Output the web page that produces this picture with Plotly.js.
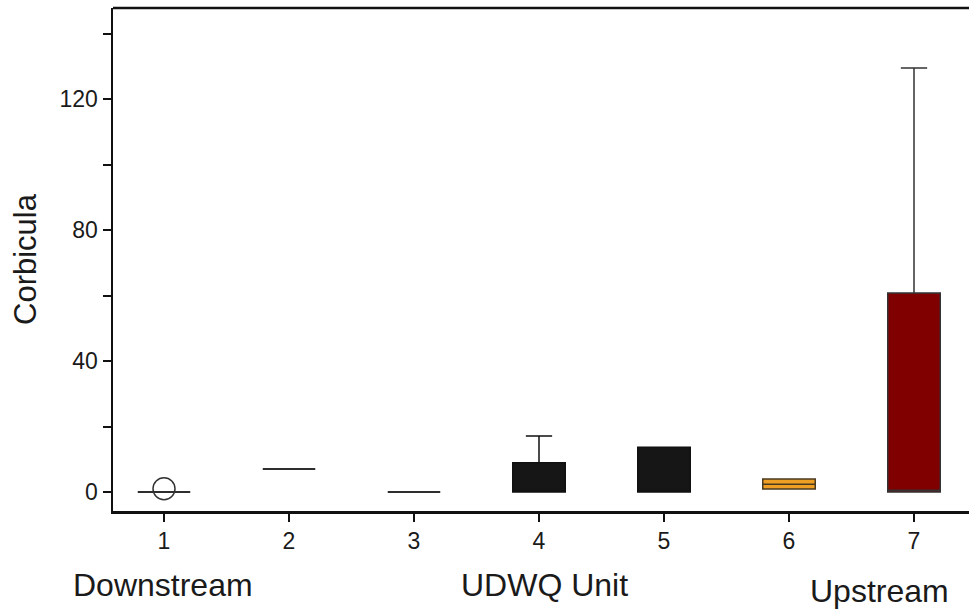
<!DOCTYPE html>
<html>
<head>
<meta charset="utf-8">
<script src="https://cdn.plot.ly/plotly-3.0.1.min.js"></script>
<style>html,body{margin:0;padding:0;background:#fff;overflow:hidden}</style>
</head>
<body>
<div id="chart" style="width:969px;height:610px"></div>
<script>
// Data
var units      = [1, 2, 3, 4, 5, 6, 7];
var q1Vals     = [0, 7.0, 0, 0, 0, 0.9, 0];
var medianVals = [0, 7.0, 0, 0, 0, 2.4, 0.5];
var q3Vals     = [0, 7.0, 0, 8.9, 13.7, 4.0, 60.8];
var lowerVals  = [0, 7.0, 0, 0, 0, 0.9, 0];
var upperVals  = [0, 7.0, 0, 17.1, 13.7, 4.0, 129.5];
var outlierX   = [1];
var outlierY   = [1];
var yTickVals  = [0, 20, 40, 60, 80, 100, 120, 140];
var yTickText  = ['0', '', '40', '', '80', '', '120', ''];
var regionLabels = ['Downstream', 'UDWQ Unit', 'Upstream'];

// Styles
var fills = ['rgba(0,0,0,0)', 'rgba(0,0,0,0)', 'rgba(0,0,0,0)', '#161616', '#161616', '#EE9E22', '#800000'];
var lines = ['#2e2e2e', '#2e2e2e', '#2e2e2e', '#111111', '#111111', '#4a3a20', '#333333'];
var lineW = [2, 2, 2, 1.5, 1.5, 1.5, 1.5];

var traces = units.map(function (u, i) {
  return {
    type: 'box',
    x: [u],
    q1: [q1Vals[i]],
    median: [medianVals[i]],
    q3: [q3Vals[i]],
    lowerfence: [lowerVals[i]],
    upperfence: [upperVals[i]],
    width: 0.42,
    whiskerwidth: 0.5,
    fillcolor: fills[i],
    line: {color: lines[i], width: lineW[i]},
    showlegend: false,
    hoverinfo: 'skip'
  };
});
traces.push({
  type: 'scatter', mode: 'markers',
  x: outlierX, y: outlierY,
  marker: {symbol: 'circle-open', size: 22, color: '#333333', line: {width: 1.5, color: '#333333'}},
  showlegend: false, hoverinfo: 'skip'
});

var fontFam = 'Liberation Sans, Arial, sans-serif';
var layout = {
  width: 969, height: 610,
  margin: {l: 113, r: 0, t: 8, b: 99},
  paper_bgcolor: '#ffffff', plot_bgcolor: '#ffffff',
  font: {family: fontFam, color: '#1a1a1a'},
  xaxis: {
    range: [0.592, 7.44],
    tickvals: units,
    ticktext: units.map(String),
    ticks: 'outside', ticklen: 8, tickwidth: 2, tickcolor: '#111',
    showline: true, linewidth: 2.5, linecolor: '#111', mirror: false,
    showgrid: false, zeroline: false,
    tickfont: {size: 23, family: fontFam, color: '#1a1a1a'}
  },
  yaxis: {
    range: [-5.8, 147.8],
    tickvals: yTickVals,
    ticktext: yTickText,
    ticks: 'outside', ticklen: 8, tickwidth: 2, tickcolor: '#111',
    showline: true, linewidth: 2.5, linecolor: '#111',
    showgrid: false, zeroline: false,
    tickfont: {size: 23, family: fontFam, color: '#1a1a1a'},
    title: {text: 'Corbicula', font: {size: 31, family: fontFam, color: '#1a1a1a'}, standoff: 14}
  },
  shapes: [{
    type: 'line', xref: 'paper', yref: 'paper', x0: 0, x1: 1, y0: 1, y1: 1,
    line: {color: '#111', width: 2.5}
  }],
  annotations: [
    {text: regionLabels[0], xref: 'x', yref: 'paper', x: 0.99, y: -0.147, xanchor: 'center', yanchor: 'middle', showarrow: false, font: {size: 32, family: fontFam, color: '#1a1a1a'}},
    {text: regionLabels[1], xref: 'x', yref: 'paper', x: 4.04, y: -0.147, xanchor: 'center', yanchor: 'middle', showarrow: false, font: {size: 32, family: fontFam, color: '#1a1a1a'}},
    {text: regionLabels[2], xref: 'x', yref: 'paper', x: 6.72, y: -0.16, xanchor: 'center', yanchor: 'middle', showarrow: false, font: {size: 32, family: fontFam, color: '#1a1a1a'}}
  ]
};

Plotly.newPlot('chart', traces, layout, {displayModeBar: false, staticPlot: true});
</script>
</body>
</html>
